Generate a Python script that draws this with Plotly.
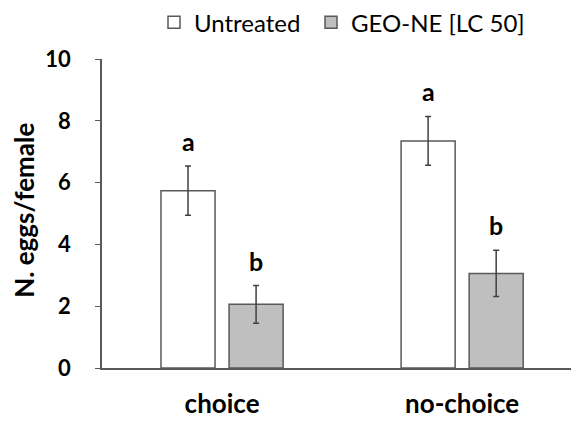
import plotly.graph_objects as go

categories = ["choice", "no-choice"]
untreated = [5.74, 7.35]
untreated_err = [0.80, 0.79]
geo = [2.06, 3.06]
geo_err = [0.61, 0.75]
letters_untreated = ["a", "a"]
letters_geo = ["b", "b"]
yticks = [0, 2, 4, 6, 8, 10]

FONT = "Lato"
EDGE = "#595959"

fig = go.Figure()
fig.add_trace(go.Bar(
    name="Untreated", x=categories, y=untreated, legend="legend", showlegend=True,
    marker=dict(color="white", line=dict(color=EDGE, width=1.5)),
    error_y=dict(type="data", array=untreated_err, color="#404040", thickness=1.5, width=3),
))
fig.add_trace(go.Bar(
    name="GEO-NE [LC 50]", x=categories, y=geo, legend="legend2", showlegend=True,
    marker=dict(color="#bfbfbf", line=dict(color=EDGE, width=1.5)),
    error_y=dict(type="data", array=geo_err, color="#404040", thickness=1.5, width=3),
))

ann = []
for i, c in enumerate(categories):
    ann.append(dict(x=c, y=untreated[i] + untreated_err[i], text=letters_untreated[i],
                    xshift=-34, yshift=25, showarrow=False,
                    font=dict(family=FONT, size=25, color="black", weight="bold")))
    ann.append(dict(x=c, y=geo[i] + geo_err[i], text=letters_geo[i],
                    xshift=34, yshift=25, showarrow=False,
                    font=dict(family=FONT, size=25, color="black", weight="bold")))
ann.append(dict(x=-0.16, y=0.51, xref="paper", yref="paper", xanchor="center", yanchor="middle",
                text="N. eggs/female", textangle=-90, showarrow=False,
                font=dict(family=FONT, size=26, color="black", weight="bold")))

leg_common = dict(orientation="h", y=1.118, yanchor="middle", xanchor="left",
                  bgcolor="rgba(0,0,0,0)", borderwidth=0,
                  font=dict(family=FONT, size=24, color="black"))

fig.update_layout(
    width=579, height=428,
    margin=dict(l=94, r=0, t=51, b=68, autoexpand=False),
    paper_bgcolor="white", plot_bgcolor="white",
    barmode="group", bargap=0.433, bargroupgap=0.206,
    showlegend=True,
    legend=dict(x=(146 - 94) / 485, **leg_common),
    legend2=dict(x=(303 - 94) / 485, **leg_common),
    annotations=ann,
    xaxis=dict(showline=True, linecolor=EDGE, linewidth=1.5, ticks="", showgrid=False,
               range=[-0.5, 1.52], ticklabelstandoff=12,
               tickfont=dict(family=FONT, size=26, color="black", weight="bold")),
    yaxis=dict(range=[0, 10], tickvals=yticks, showline=True, linecolor=EDGE, linewidth=1.5,
               ticks="outside", ticklen=5, tickcolor=EDGE, showgrid=False, zeroline=False,
               ticklabelstandoff=20,
               tickfont=dict(family=FONT, size=22, color="black", weight="bold")),
)

fig.write_html("out.html")
